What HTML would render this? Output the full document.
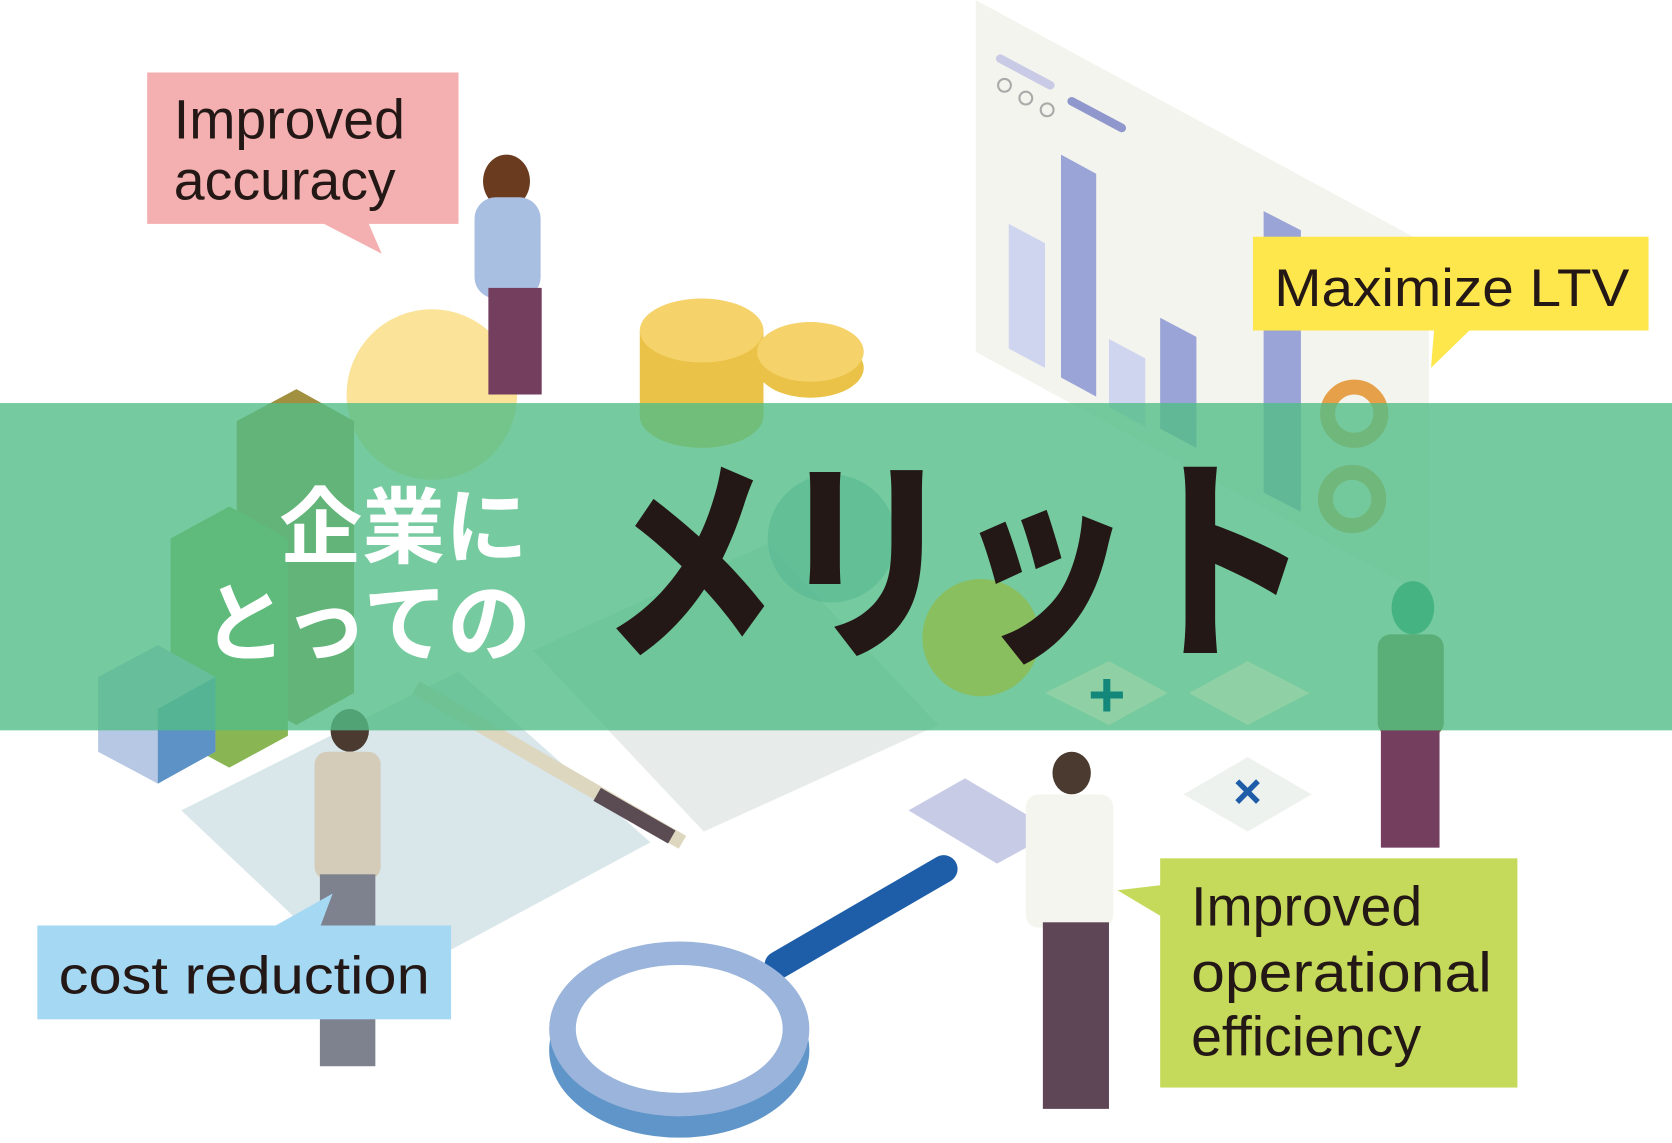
<!DOCTYPE html>
<html><head><meta charset="utf-8"><style>
html,body{margin:0;padding:0;background:#fff;width:1672px;height:1143px;overflow:hidden}
svg{display:block}
</style></head><body>
<svg width="1672" height="1143" viewBox="0 0 1568 1072" preserveAspectRatio="none" xmlns="http://www.w3.org/2000/svg">
<rect width="1568" height="1072" fill="#fff"/>
<!-- chart panel -->
<polygon points="915,0 1340,230 1340,560 915,330" fill="#f4f4ee"/>
<line x1="938" y1="55" x2="985" y2="80" stroke="#c9cbe6" stroke-width="8" stroke-linecap="round"/>
<line x1="1005" y1="95" x2="1052" y2="120" stroke="#8f97cc" stroke-width="8" stroke-linecap="round"/>
<circle cx="942" cy="80" r="6" fill="none" stroke="#aaa" stroke-width="2"/>
<circle cx="962" cy="92" r="6" fill="none" stroke="#aaa" stroke-width="2"/>
<circle cx="982" cy="103" r="6" fill="none" stroke="#aaa" stroke-width="2"/>
<polygon points="946,210 980,228 980,345 946,327" fill="#cfd5ee"/>
<polygon points="995,145 1028,163 1028,372 995,354" fill="#9aa4d6"/>
<polygon points="1040,318 1074,336 1074,400 1040,382" fill="#cfd5ee"/>
<polygon points="1088,298 1122,316 1122,420 1088,402" fill="#9aa4d6"/>
<polygon points="1185,198 1220,216 1220,480 1185,462" fill="#9aa4d6"/>
<circle cx="1270" cy="388" r="25" fill="none" stroke="#e6a04a" stroke-width="14"/>
<circle cx="1268" cy="468" r="25" fill="none" stroke="#e6a04a" stroke-width="14"/>
<!-- coins -->
<ellipse cx="658" cy="390" rx="58" ry="30" fill="#e9c247"/>
<rect x="600" y="310" width="116" height="80" fill="#e9c247"/>
<ellipse cx="658" cy="310" rx="58" ry="30" fill="#f6d26a"/>
<ellipse cx="760" cy="345" rx="50" ry="28" fill="#e9c247"/>
<ellipse cx="760" cy="330" rx="50" ry="28" fill="#f6d26a"/>
<!-- lightbulb -->
<circle cx="405" cy="370" r="80" fill="#fbe39a"/>
<!-- blocks -->
<polygon points="222,395 278,365 332,395 332,650 278,680 222,650" fill="#a09040"/>
<polygon points="160,505 215,475 270,505 270,690 215,720 160,690" fill="#8ab553"/>
<polygon points="92,635 148,605 202,635 202,705 148,735 92,705" fill="#b6c8e4"/>
<polygon points="148,665 202,635 202,705 148,735" fill="#5c92c6"/>
<!-- woman top -->
<ellipse cx="475" cy="170" rx="22" ry="25" fill="#6b3b1f"/>
<rect x="445" y="185" width="62" height="95" rx="20" fill="#a9bfe1"/>
<rect x="458" y="270" width="50" height="100" fill="#743f5f"/>
<!-- calculator / document -->
<polygon points="170,760 430,630 610,790 350,930" fill="#d9e6ea"/>
<polygon points="500,610 720,510 880,680 660,780" fill="#e7ecea"/>
<!-- pencil -->
<line x1="390" y1="645" x2="640" y2="790" stroke="#ddd7c0" stroke-width="14"/>
<line x1="560" y1="745" x2="630" y2="785" stroke="#5a4c52" stroke-width="14"/>
<!-- magnifier -->
<line x1="730" y1="905" x2="885" y2="815" stroke="#1e5da8" stroke-width="26" stroke-linecap="round"/>
<ellipse cx="637" cy="985" rx="122" ry="82" fill="#5f95c8"/>
<ellipse cx="637" cy="965" rx="122" ry="82" fill="#9ab4db"/>
<ellipse cx="637" cy="965" rx="97" ry="60" fill="#fff"/>
<!-- operation tiles -->
<polygon points="852,760 905,730 990,780 935,810" fill="#c7cbe6"/>
<polygon points="1110,745 1170,710 1230,745 1170,780" fill="#eef2ef"/>
<text x="1170" y="758" font-family="Liberation Sans,sans-serif" font-size="46" font-weight="bold" fill="#1e5da8" text-anchor="middle">×</text>
<!-- man left -->
<ellipse cx="328" cy="685" rx="18" ry="20" fill="#4a3a2f"/>
<rect x="295" y="705" width="62" height="120" rx="12" fill="#d4ccb8"/>
<rect x="300" y="820" width="52" height="180" fill="#7e818e"/>
<!-- man right -->
<ellipse cx="1005" cy="725" rx="18" ry="20" fill="#4a3a2f"/>
<rect x="962" y="745" width="82" height="125" rx="12" fill="#f5f5ef"/>
<rect x="978" y="865" width="62" height="175" fill="#5e4657"/>
<!-- woman right -->
<ellipse cx="1325" cy="570" rx="20" ry="25" fill="#138a6d"/>
<rect x="1292" y="595" width="62" height="95" rx="12" fill="#7b7439"/>
<rect x="1295" y="685" width="55" height="110" fill="#743f5f"/>

<!-- green band -->
<rect x="0" y="378" width="1568" height="307" fill="#52bd87" fill-opacity="0.8"/>
<!-- extra faint shapes on band -->
<circle cx="780" cy="505" r="60" fill="#55b891" fill-opacity="0.6"/>
<circle cx="920" cy="598" r="55" fill="#8fbb4e" fill-opacity="0.8"/>
<polygon points="980,650 1040,620 1095,650 1040,680" fill="#8fd1a5"/>
<text x="1038" y="672" font-family="Liberation Sans,sans-serif" font-size="60" font-weight="bold" fill="#13887a" text-anchor="middle">+</text>
<polygon points="1115,650 1170,620 1228,650 1170,680" fill="#8fd1a5"/>

<!-- title -->
<text x="262" y="522" font-family="'Noto Sans CJK JP',sans-serif" font-weight="bold" font-size="78" fill="#fff" textLength="233" lengthAdjust="spacingAndGlyphs">企業に</text>
<text x="190" y="614" font-family="'Noto Sans CJK JP',sans-serif" font-weight="bold" font-size="82" fill="#fff" textLength="308" lengthAdjust="spacingAndGlyphs">とっての</text>
<text x="563" y="602" font-family="'Noto Sans CJK JP',sans-serif" font-weight="900" font-size="205" fill="#231815" textLength="665" lengthAdjust="spacingAndGlyphs">メリット</text>

<!-- callouts -->
<polygon points="300,208 345,208 358,238" fill="#f4b0b0"/>
<rect x="138" y="68" width="292" height="142" fill="#f4b0b0"/>
<text x="163" y="130" font-family="'Liberation Sans',sans-serif" font-size="52" fill="#231815">Improved</text>
<text x="163" y="187" font-family="'Liberation Sans',sans-serif" font-size="52" fill="#231815">accuracy</text>

<polygon points="1345,308 1380,308 1342,345" fill="#fde74c"/>
<rect x="1175" y="222" width="371" height="88" fill="#fde74c"/>
<text x="1195" y="287" font-family="'Liberation Sans',sans-serif" font-size="50" fill="#231815" textLength="333" lengthAdjust="spacingAndGlyphs">Maximize LTV</text>

<polygon points="255,870 300,870 312,838" fill="#a5d8f3"/>
<rect x="35" y="868" width="388" height="88" fill="#a5d8f3"/>
<text x="55" y="932" font-family="'Liberation Sans',sans-serif" font-size="50" fill="#231815" textLength="348" lengthAdjust="spacingAndGlyphs">cost reduction</text>

<polygon points="1090,830 1090,860 1048,835" fill="#c5da5a"/>
<rect x="1088" y="805" width="335" height="215" fill="#c5da5a"/>
<text x="1117" y="868" font-family="'Liberation Sans',sans-serif" font-size="52" fill="#231815">Improved</text>
<text x="1117" y="930" font-family="'Liberation Sans',sans-serif" font-size="52" fill="#231815" textLength="282" lengthAdjust="spacingAndGlyphs">operational</text>
<text x="1117" y="990" font-family="'Liberation Sans',sans-serif" font-size="52" fill="#231815">efficiency</text>
</svg>
</body></html>
